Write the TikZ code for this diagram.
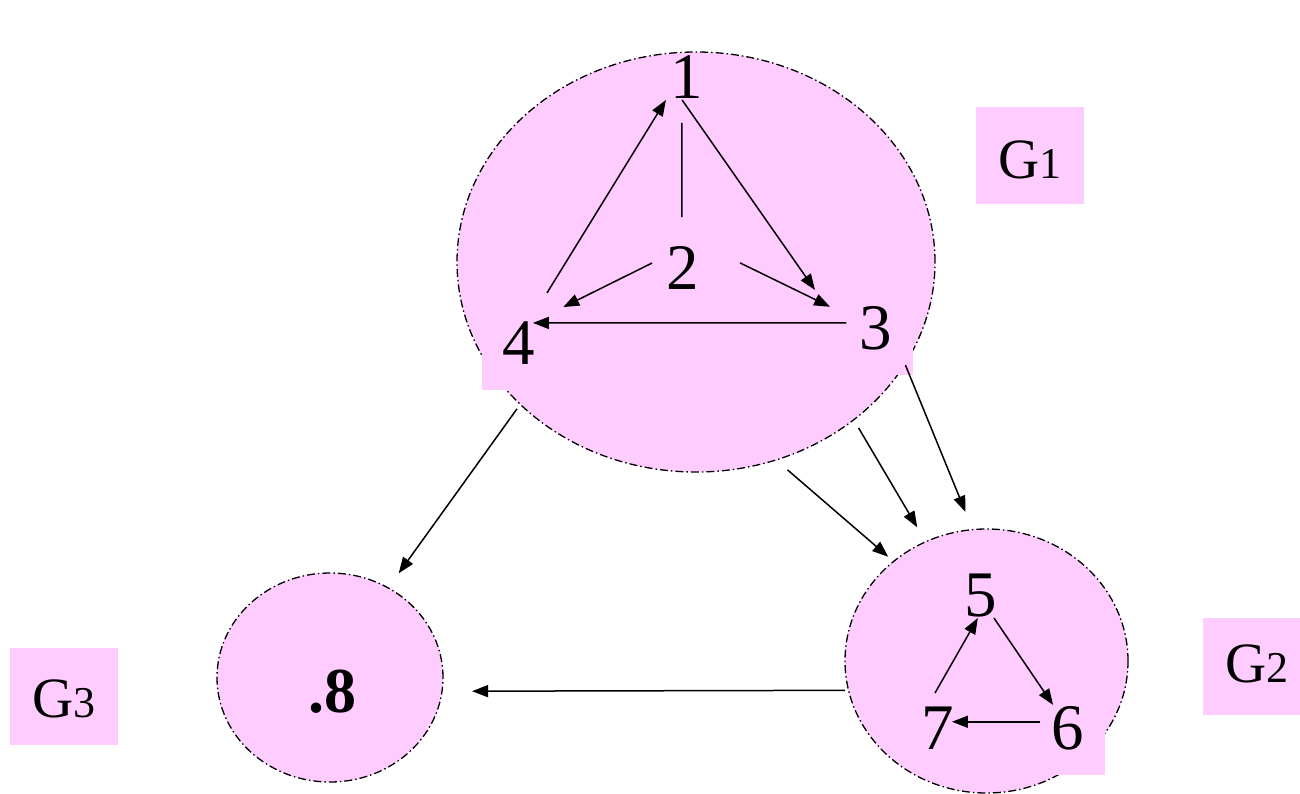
\documentclass[tikz,border=0pt]{standalone}
\usepackage{fontspec}
\setmainfont{Liberation Serif}
\usetikzlibrary{shapes.geometric,arrows.meta}

\definecolor{grppink}{RGB}{255,204,255}

\begin{document}
\begin{tikzpicture}[x=1pt, y=-1pt,
  grp/.style={ellipse, fill=grppink, draw=black, line width=1.3pt, dash pattern=on 8pt off 3pt on 1.5pt off 3pt, inner sep=0pt, outer sep=0pt},
  vtx/.style={circle, minimum size=60pt, inner sep=0pt, outer sep=0pt, font=\fontsize{65}{70}\selectfont},
  tbox/.style={fill=grppink, minimum width=74pt, minimum height=94pt, inner sep=0pt},
  glabel/.style={fill=grppink, minimum width=108pt, minimum height=97pt, inner sep=0pt, font=\fontsize{57}{60}\selectfont},
  arr/.style={-{Triangle[length=16pt,width=12pt]}, line width=1.5pt}]
\useasboundingbox (0,0) rectangle (1300,794);
% components
\node[grp, minimum width=478pt, minimum height=420pt] (g1) at (696,262) {};
\node[grp, minimum width=283pt, minimum height=264pt] (g2) at (986.5,661) {};
\node[grp, minimum width=226pt, minimum height=209pt] (g3) at (330,677.5) {};
% text boxes over the rim
\node[tbox] (b3) at (876,328) {};
\node[tbox] (b4) at (519,343) {};
\node[tbox] (b6) at (1068,728) {};
% vertices
\node[vtx] (n1) at (687,77) {1};
\node[vtx] (n2) at (683,268) {2};
\node[vtx] (n3) at (876,328) {3};
\node[vtx] (n4) at (519,343) {4};
\node[vtx] (n5) at (981,596) {5};
\node[vtx] (n6) at (1068,728) {6};
\node[vtx] (n7) at (938,728) {7};
\node[vtx, font=\fontsize{64}{70}\selectfont\bfseries] (n8) at (332,692) {.8};
% labels
\node[glabel, text height=46pt, text depth=0pt] (l1) at (1030,155.5) {G{\fontsize{44}{50}\selectfont 1}};
\node[glabel, text height=33pt, text depth=0pt] (l2) at (1257,666) {G{\fontsize{44}{50}\selectfont 2}};
\node[glabel, text height=43pt, text depth=0pt] (l3) at (64,696) {G{\fontsize{44}{50}\selectfont 3}};
% arcs
\foreach \u/\v/\s/\t in {n4.63/n1.227/27.4pt/1.2pt, n1.270/n3.195/-8.5pt/55.9pt,
    n2.169/n4.51/1.7pt/28.3pt, n2.54/n3.156/43.7pt/20.6pt, n3.170/n4.42/0pt/-8.4pt,
    n7.102/n5.256/6.5pt/-8.2pt, n5.301/n6.123/-4.5pt/-2.5pt, n6.168/n7.12/-1.4pt/-15.4pt,
    g1.219/g3.57/5.6pt/18pt, g1.292/g2.133/15.2pt/7.1pt, g1.315/g2.117/9.6pt/16.8pt,
    g1.334/g2.96/1.4pt/19.1pt, g2.192/g3.353/3.7pt/30pt}
  \draw[arr, shorten <=\s, shorten >=\t] (\u) -- (\v);
\draw[line width=1.5pt, shorten <=16.4pt, shorten >=21pt] (n1.260) -- (n2.92);
\end{tikzpicture}
\end{document}
